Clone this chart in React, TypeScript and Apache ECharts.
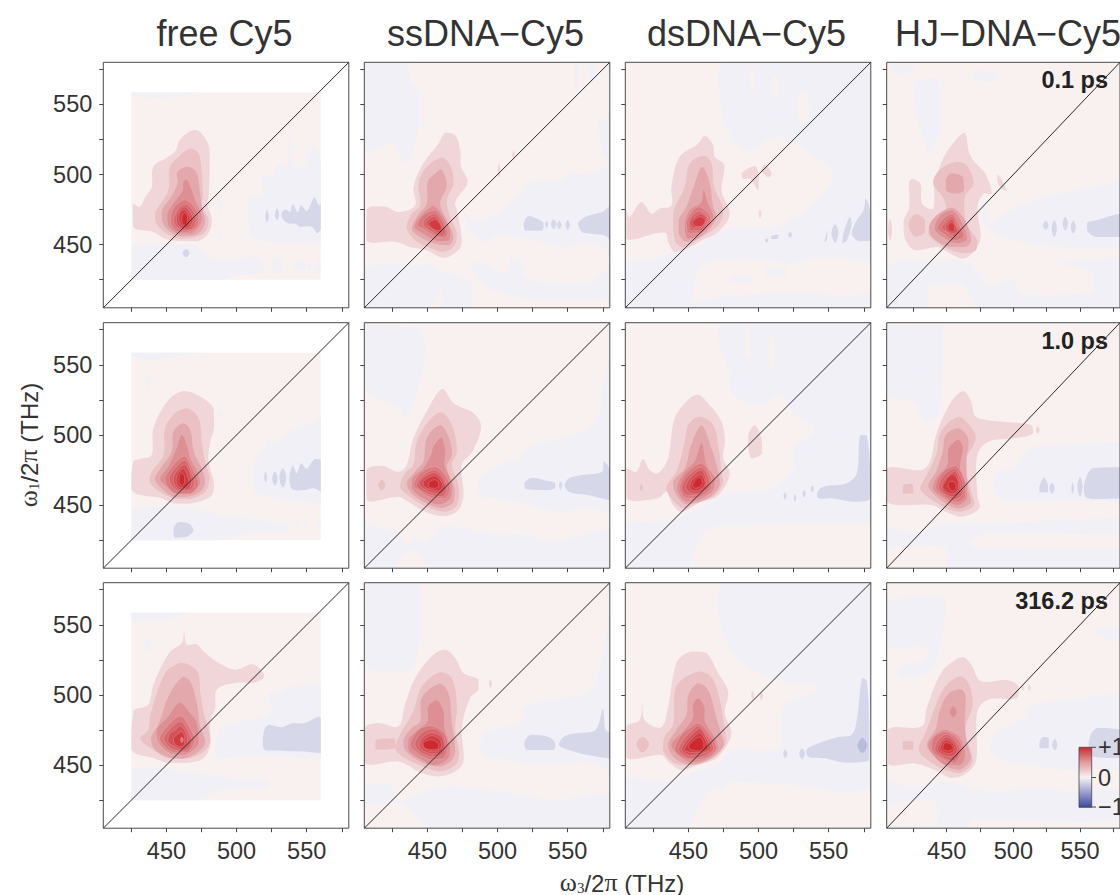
import React, { useEffect, useRef } from "react";
import * as echarts from "echarts";

type Contour = [number, number[]];

const columnTitles = ["free Cy5", "ssDNA\u2212Cy5", "dsDNA\u2212Cy5", "HJ\u2212DNA\u2212Cy5"];
const delayLabels = ["0.1 ps", "1.0 ps", "316.2 ps"];
const minorTicks = [425, 450, 475, 500, 525, 550, 575];
const majorLabels = [450, 500, 550];
const axisRange = [405, 580];
const diagonal = [[405, 405], [580, 580]];
const colorbarLabels = ["+1", "0", "\u22121"];

const levelColors: Record<string, string> = {
  "-3": "#babcdc", "-2": "#d7d7ea", "-1": "#f1f0f7", "0": "#f8f1ef",
  "1": "#f0d6d8", "2": "#eac1c4", "3": "#e3a8ac", "4": "#dd8f93", "5": "#da7a7f",
  "6": "#d6666b", "7": "#d45157", "8": "#d03c42", "9": "#cd2a30",
};

const fullBase: Contour = [0, [405, 405, 580, 405, 580, 580, 405, 580]];
const cutBase: Contour = [0, [425, 425, 560, 425, 560, 558.5, 425, 558.5]];

const freeCy5_01: Contour[] = [
  cutBase,
  [-1, [425, 558.5, 473, 558.5, 459, 556, 439, 554.5, 425, 557]],
  [-1, [508.5, 484, 518, 486.5, 519, 500.5, 525, 498, 530, 508, 536, 505.5, 537.5, 529, 541, 507, 548, 505.5, 555, 520, 560, 508, 560, 451, 536, 451.5, 522, 452, 513, 455.5, 508.5, 465]],
  [-1, [425, 449, 450, 449.5, 467, 450.7, 476.4, 444.8, 483.6, 440, 500.2, 440, 514.5, 441.2, 519.3, 436.4, 518, 430.5, 509.8, 428.8, 498, 428, 490.7, 425, 425, 425]],
  [-1, [528.8, 442, 533, 435, 528.8, 428.5, 524.5, 435]],
  [-1, [545.5, 439, 550, 435, 545.5, 431, 541, 435]],
  [-1, [552, 438, 553.5, 434, 552, 430, 550.5, 434]],
  [-1, [558.5, 439, 560, 434, 558.5, 429, 557, 434]],
  [-1, [488.3, 483, 489.5, 478, 488.3, 473, 487, 478]],
  [-1, [488.8, 461, 490, 458, 488.8, 455, 487.7, 458]],
  [-2, [531.9, 472, 534.8, 475, 538.3, 473.3, 540, 478.8, 543.6, 473.3, 546, 478, 550.2, 474, 555.5, 484, 558.6, 478, 560, 479.3, 560, 461.4, 557.4, 458.3, 553.8, 462.6, 548, 463, 545.5, 462.6, 542, 465, 538, 465, 533.6, 467.4]],
  [-2, [521.7, 474.5, 523, 470, 521.7, 466, 520.5, 470]],
  [-2, [528.8, 475.7, 530.3, 471.5, 528.8, 467.4, 527.3, 471.5]],
  [-2, [464, 447, 466.5, 444, 464, 441, 461.5, 444]],
  [1, [470.5, 531.7, 475, 529.3, 479, 523.3, 480.7, 517.4, 480.7, 500.7, 480, 484, 479, 479.3, 482.4, 467.4, 479, 456.7, 471.7, 452.6, 460, 452.6, 449, 454.3, 440.7, 459, 426.4, 462.6, 426, 479, 431, 477, 435, 484, 439.5, 491, 440.7, 505.5, 451.4, 512.6, 457, 517.4, 458.6, 523.3, 464.5, 529.3]],
  [2, [466.9, 518.6, 472.9, 515, 475.2, 500.7, 476, 484, 475.2, 478, 480, 467.4, 477.6, 459, 470.5, 455.5, 459.8, 454.3, 450.2, 457.9, 443.1, 465, 441.9, 472, 444.3, 476.9, 451.4, 488.8, 452.6, 505.5, 458.6, 512.6]],
  [3, [465.7, 505.5, 471.7, 500.7, 474, 486.4, 475.2, 476.9, 477.6, 467.4, 475.2, 460.2, 469.3, 456.7, 459.8, 456, 451.4, 460.2, 446.7, 467.4, 446.7, 474.5, 452.6, 482.9, 457.9, 493.6, 457.9, 501.9]],
  [4, [464.5, 496.4, 468, 488.8, 470.5, 481.7, 475.2, 469.8, 473, 462.6, 466.9, 457.9, 458.6, 457.9, 451.4, 463.8, 450.7, 472, 455, 479.3, 461.7, 488.8, 462.1, 494.8]],
  [5, [463, 482, 469, 478, 473, 470, 472, 463, 465, 459, 457, 460, 453, 466, 454, 474, 458, 479]],
  [6, [464, 479, 469, 474, 471, 468, 469, 462, 464, 460, 458, 462, 455, 467, 457, 473, 460, 477]],
  [7, [463, 477, 467, 473, 469, 468, 467, 463, 464, 461, 459, 463, 457, 468, 458, 472]],
  [8, [463, 475, 466, 471, 467, 467, 465, 463, 463, 462, 460, 465, 459, 469, 460, 473]],
  [9, [463, 473, 465, 470, 465, 467, 464, 464, 462, 464, 461, 467, 461, 470]],
];

const ssDNA_01: Contour[] = [
  fullBase,
  [-1, [405, 580, 434, 580, 438, 565, 444, 558, 444, 541, 442, 527, 438, 513, 433, 508, 426, 522, 419, 520, 410, 517, 405, 522]],
  [-1, [475.7, 474.5, 480.5, 469, 493.6, 468.6, 517.4, 487.6, 522, 493.6, 546, 497, 550.7, 500.7, 565, 500.7, 580, 507, 580, 446, 562.6, 452, 550.7, 448, 527, 453, 512.6, 455.5, 500.7, 456.7, 491, 452, 481.7, 459, 477, 468.6]],
  [-1, [555, 580, 558, 580, 558, 558, 555, 560]],
  [-1, [565, 580, 570, 580, 568, 563, 566, 565]],
  [-1, [572, 537, 575, 517, 580, 510, 580, 540]],
  [-1, [405, 432, 427, 436.4, 446, 435, 449.5, 437.6, 458, 431.7, 467.4, 429.3, 481.7, 422, 481.7, 412.6, 479.3, 405, 460.7, 405, 460, 418.6, 450.7, 405.5, 405, 405]],
  [-1, [480.5, 436.4, 493.6, 435, 505.5, 429.3, 510.2, 441, 517.4, 436.4, 519.8, 427, 534, 423.3, 565, 423.3, 580, 431.7, 580, 413, 541.2, 410, 505.5, 415, 488.8, 422]],
  [-2, [518.6, 465, 522, 470.5, 528, 468.6, 532.9, 465, 531.7, 460, 524.5, 460, 519.8, 460]],
  [-2, [535, 467, 536.2, 464.5, 535, 462, 533.8, 464.5]],
  [-2, [540, 468, 542, 464.5, 540, 461, 538, 464.5]],
  [-2, [544, 467, 545.5, 464, 544, 461, 542.5, 464]],
  [-2, [550, 467.5, 551.5, 464, 550, 460.5, 548.5, 464]],
  [-2, [557.4, 465, 562.6, 469.8, 569.8, 472, 575.8, 474, 579.3, 477, 580, 454, 575.8, 456.7, 565, 457.9, 560.2, 459]],
  [1, [462.6, 529.8, 469.8, 528, 473.3, 517.4, 474, 505.5, 478.8, 494.8, 469.8, 480.5, 471, 474.5, 474.5, 453, 472, 446, 461.4, 440.7, 449.5, 446, 437.6, 448.3, 426.9, 452, 406.7, 453, 406.7, 475, 419.8, 477, 429.3, 473.3, 441.2, 478, 440, 491, 447, 507.9, 457.9, 522]],
  [1, [501, 508, 502, 503, 501, 498, 500, 503]],
  [1, [511.4, 517, 512.4, 514, 511.4, 511, 510.4, 514]],
  [2, [460.2, 512, 466.2, 506.7, 468.6, 493.6, 463.8, 481.7, 466.2, 469.8, 471, 457.9, 469.3, 449.5, 461.4, 444.8, 450.7, 448.3, 440, 454.3, 435.2, 462.6, 438.8, 472, 444.8, 478, 443.6, 493.6, 449.5, 505.5]],
  [3, [459.8, 503.8, 463.8, 492.4, 459, 479.3, 463.8, 467.4, 468.6, 455.5, 465, 449.5, 455.5, 450.7, 444.8, 455.5, 438.8, 461.4, 442.4, 469.8, 449.5, 479.3, 450.2, 494.8, 455.5, 500.7]],
  [4, [454.3, 477.6, 461.4, 469.8, 466.2, 459, 465, 453, 456.7, 452.6, 447, 457.9, 440.7, 462.6, 443.6, 468.6, 449.5, 474.5]],
  [5, [455, 474.5, 460.7, 468.6, 464.5, 459, 462.6, 455, 455.5, 456, 447, 461.4, 443, 464, 447, 471]],
  [6, [455, 472, 460, 467, 463, 459, 460, 456, 455, 458, 449, 462, 447, 465, 449, 469]],
  [7, [455, 470, 459, 466, 461, 460, 459, 458, 455, 460, 451, 463, 449, 465, 451, 468]],
  [8, [456, 468, 459, 465, 460, 461, 457, 460, 453, 462, 451, 465, 453, 467]],
];

const dsDNA_01: Contour[] = [
  fullBase,
  [-1, [476, 580, 580, 580, 580, 405, 405, 405, 405, 435, 423.6, 440, 430.7, 441, 439, 445, 456.9, 448.3, 468.8, 459, 490.2, 462.6, 518.8, 465, 552, 493.6, 552, 503, 533, 517.4, 514, 527, 490, 517.4, 476, 536, 473.6, 546]],
  [0, [459, 435, 495, 440, 523.6, 436.4, 541.6, 441, 580, 436.4, 580, 416, 519, 416, 454.5, 410, 452.4, 405]],
  [0, [494, 574, 497, 574, 497, 562, 494, 562]],
  [0, [510, 570, 514, 570, 514, 556, 510, 556]],
  [0, [528, 555, 534, 560, 536, 540, 530, 535]],
  [-1, [480, 428, 495, 428, 495, 423, 480, 423]],
  [-1, [505, 434, 520, 433, 520, 428, 505, 428]],
  [-2, [505.7, 454.5, 507, 453, 505.7, 451.5, 504.5, 453]],
  [-2, [509, 456, 514, 457, 514, 454, 509, 454]],
  [-2, [522.4, 459, 524, 457, 522.4, 455, 521, 457]],
  [-2, [547, 452, 549, 460, 549, 456, 548, 452]],
  [-2, [554.5, 464.5, 557, 458, 554.5, 451.5, 552, 458]],
  [-2, [565, 469.8, 566.4, 465, 562.9, 453, 559.8, 451, 560.5, 458]],
  [-2, [576.4, 482.9, 580, 472, 580, 453, 571, 452.6, 566.4, 458, 570, 467.4, 574.8, 474.5]],
  [1, [461.7, 527.4, 467.6, 521, 468.8, 512.6, 475.5, 506.7, 473.6, 488.8, 479.5, 472, 471.2, 459, 459.3, 453, 448.6, 447, 440.2, 444.8, 435.5, 452, 434.3, 457.9, 428.3, 458.3, 405.7, 454.3, 405.7, 474.5, 408, 469.8, 416.4, 480.5, 423.6, 472, 429.5, 475.7, 437.9, 478, 437.9, 491.2, 443.8, 512.6, 456.9, 522]],
  [1, [487.9, 501, 497.4, 506, 500.2, 498, 499.8, 488.8, 493.8, 497, 489, 497]],
  [1, [502, 503, 504.5, 507, 509.3, 500.7, 507, 498]],
  [1, [501, 475, 502, 472, 501, 469, 500, 472]],
  [2, [461.2, 513.3, 466.4, 507.9, 468.3, 491.2, 474.8, 474.5, 471.2, 463.8, 459.3, 455.5, 446.2, 448.3, 440.2, 453, 439, 472, 447.4, 491.2, 451, 507.9]],
  [3, [459.8, 505.5, 465.2, 493.6, 467.6, 477, 470, 469.8, 460.5, 456.7, 448.6, 452, 443, 457.9, 443, 467.4, 448.6, 477, 454.5, 493.6]],
  [4, [460.7, 488.8, 464, 479.3, 467.6, 469.8, 460.5, 459, 449.8, 454.3, 447.4, 463.8, 451, 474.5, 459.3, 480.5]],
  [5, [458, 477, 466, 468.6, 459.3, 458.3, 450, 458.3, 448.6, 466, 453.3, 474.5]],
  [6, [458, 474, 464, 468, 459, 460, 452, 460, 450, 466, 454, 472]],
  [7, [459, 472, 463, 468, 459, 462, 453, 462, 451, 466, 455, 470]],
  [8, [459, 470, 462, 467, 459, 463, 455, 463, 453, 466, 456, 469]],
];

const hjDNA_01: Contour[] = [
  fullBase,
  [-1, [426, 565, 442, 568.6, 445.7, 537.6, 443.3, 527, 437.4, 515, 431.4, 529.3, 426.7, 546]],
  [-1, [408, 578, 427, 578, 420, 572, 410, 573]],
  [-1, [470, 574, 488, 572, 486, 566, 471, 568]],
  [-1, [405, 434, 424.3, 438.8, 441, 436.4, 448, 438.8, 468.3, 436.4, 479, 422, 495, 424.5, 519.5, 434, 572, 441, 580, 441, 580, 405, 405, 405]],
  [0, [436, 405, 436, 420, 460, 422, 472, 405]],
  [0, [500, 428, 530, 436, 560, 430, 560, 416, 510, 414]],
  [-1, [483.8, 465, 502.9, 477, 524.3, 484, 548, 488.8, 572, 493.6, 580, 495, 580, 448, 543, 448, 519.5, 449.5, 503, 453, 491, 455.5, 481.4, 462.6]],
  [-1, [476.7, 486, 481, 470, 483, 462, 478, 465]],
  [-2, [524.3, 467, 526.3, 463.8, 524.3, 460.5, 522.3, 463.8]],
  [-2, [530.7, 467.5, 532.7, 461.4, 530.7, 455.5, 528.7, 461.4]],
  [-2, [539, 470, 541, 465, 539, 460, 537, 465]],
  [-2, [545, 467, 547, 462.6, 545, 458, 543, 462.6]],
  [-2, [555.2, 465.5, 562.4, 467.4, 580, 472, 580, 455.5, 562.4, 455.5, 555.2, 460]],
  [1, [463.6, 530, 467, 515, 471.9, 507.9, 479, 500.7, 483.8, 486.4, 477.9, 486.4, 473, 477, 475.5, 455.5, 471.9, 447, 462.4, 440, 450.5, 444.8, 443.3, 448.3, 425.5, 446.4, 418.3, 455.5, 417.6, 466.2, 421.9, 477, 422.4, 496, 430.2, 493.6, 431.4, 479.3, 439.8, 475.7, 441, 493.6, 448, 512.6, 457.6, 525.7]],
  [1, [488, 500, 492, 495, 495, 488, 491, 490, 488, 495]],
  [1, [407.5, 468.5, 409, 461, 407.5, 453, 406, 461]],
  [2, [456.4, 509, 464.8, 506.7, 470.2, 493.6, 463.6, 484, 464.8, 465, 473, 453, 471.9, 446, 462.4, 444, 448, 448.3, 436.2, 457.9, 439.8, 467.4, 449.3, 474.5, 447, 484, 439.8, 493.6, 444.5, 503]],
  [2, [421.4, 463.8, 426.7, 471.7, 433.8, 467.4, 433.8, 459, 426.7, 455.5]],
  [3, [453.2, 501, 462.4, 498, 462.9, 488.8, 456.4, 486.4, 449.3, 488.8, 449.3, 496]],
  [3, [454, 476.4, 463.6, 467.4, 468.3, 453, 463.6, 448.3, 451.7, 448.3, 439, 455.5, 436.6, 462.6, 442.5, 471]],
  [4, [454, 474.5, 462.4, 463.8, 465.2, 454.3, 457.6, 451.2, 449.3, 454.3, 441, 461.4, 444.3, 469.8]],
  [5, [454, 472, 460, 463, 463, 456, 456, 453, 449, 457, 443, 462, 447, 468]],
  [6, [454, 470, 458, 463, 460, 458, 455, 456, 450, 459, 446, 462, 449, 466]],
  [7, [454, 468, 457, 463, 458, 459, 454, 458, 450, 460, 449, 463, 451, 466]],
  [8, [454, 466, 456, 463, 456, 460, 454, 459, 451, 461, 451, 464]],
];

const freeCy5_10: Contour[] = [
  cutBase,
  [-1, [425, 558.5, 476, 558.5, 457, 556, 441, 553.6, 425, 556]],
  [-1, [436.4, 545, 438, 539, 436.4, 533, 435, 539]],
  [-1, [512, 478.6, 520.5, 491.7, 522.9, 497.6, 526.4, 494, 538.3, 502.4, 547.9, 507, 555, 509.5, 560, 513, 560, 451, 547.9, 452.4, 530, 454.8, 518.3, 457, 512.3, 460.7]],
  [-1, [425, 445.2, 437.9, 448.8, 466.9, 447.6, 495.5, 441.7, 526.4, 438, 538.3, 435.7, 538.3, 432, 519.3, 431, 490.7, 426, 486, 425, 425, 425]],
  [-1, [543, 437.5, 544, 434.5, 543, 431.5, 542, 434.5]],
  [-1, [549, 437, 550, 434, 549, 431, 548, 434]],
  [-1, [558.6, 437.5, 560, 434.5, 558.6, 431.5, 557.6, 434.5]],
  [-1, [488.3, 518, 489.8, 514.8, 488.3, 512, 486.8, 514.8]],
  [-2, [520.7, 474, 521.8, 470, 520.7, 466, 519.7, 470]],
  [-2, [527.3, 474, 529.3, 469, 527.3, 464, 525.3, 469]],
  [-2, [533, 476.5, 535.5, 469.5, 533, 462.5, 530.5, 469.5]],
  [-2, [537.6, 469, 540, 478, 543, 472.6, 546, 479.8, 550, 476, 555.5, 482.9, 560, 482, 560, 459.5, 555, 462, 547.9, 460.7, 539.7, 461.4]],
  [-2, [455, 433, 458.6, 438, 465.7, 437, 469.3, 432, 464.5, 427.4, 456.2, 426.7]],
  [1, [462, 531.4, 471.7, 528.6, 483.6, 519, 484, 504.8, 481.2, 495.2, 480, 481, 484, 464.3, 481.2, 456, 466.9, 451.2, 455, 451.2, 445.5, 455.2, 431.2, 457.1, 425, 461.9, 426.4, 481, 431.2, 482.9, 439.5, 485.7, 440.7, 504.8, 451.6, 525]],
  [2, [464.5, 519, 472.9, 511.9, 475.2, 495.2, 477.6, 481, 480.7, 469, 477.6, 459.5, 466.9, 454.3, 456.2, 454.3, 445.5, 459.5, 437.9, 466.7, 439.5, 473.8, 447.9, 485.7, 449, 504.8, 456.2, 515.5]],
  [3, [462, 508.3, 467, 503.6, 469.5, 488, 475.2, 476, 477.6, 466.7, 474, 459.5, 464.5, 456, 455, 456, 446.7, 461.9, 441.9, 469, 446.7, 477.4, 453.8, 488, 455, 502.4]],
  [4, [461, 500, 464.5, 492.9, 466.9, 483.3, 471.9, 473.8, 474, 465.5, 466.9, 458.3, 456.2, 458.3, 449, 464.3, 445.5, 469, 451.4, 477.4, 457.4, 490.5]],
  [5, [463, 485, 470, 473, 473, 465, 467, 458, 457, 458, 451, 463, 449, 469, 453, 476, 458, 482]],
  [6, [463, 482, 468, 473, 470, 465, 466, 460, 458, 460, 453, 465, 452, 470, 456, 476]],
  [7, [463, 479, 467, 472, 468, 466, 465, 461, 459, 461, 455, 466, 455, 470, 458, 475]],
  [8, [462, 476, 465, 471, 466, 466, 463, 462, 459, 463, 457, 467, 458, 472]],
  [9, [461, 473, 463, 470, 463, 466, 461, 464, 459, 466, 459, 470]],
];

const ssDNA_10: Contour[] = [
  fullBase,
  [-1, [405, 562, 406.7, 578.6, 443.6, 576, 448.3, 564.3, 448.3, 554.8, 442.4, 531, 434, 512, 429.3, 519, 415, 526.2, 406.7, 531]],
  [-1, [486.4, 462, 488.8, 471.4, 517.4, 485.7, 522, 491.7, 546, 497.6, 569.8, 509.5, 575.7, 538, 580, 550, 580, 445, 562.6, 447.6, 543.6, 445, 522, 450, 500.7, 454.8, 488.8, 456]],
  [-1, [405, 436, 426, 431, 436, 422, 442, 426, 450, 424, 458, 434, 480, 433, 497, 429, 517, 429, 540, 424, 580, 432, 580, 405, 462, 405, 450, 408, 438, 418, 428, 410, 428, 405, 405, 405]],
  [-2, [519, 465.5, 524.5, 469.5, 532.9, 467.9, 541.2, 465.5, 541, 462, 534, 460.7, 520, 461.4]],
  [-2, [544.8, 467, 546, 464.3, 544.8, 461, 543.8, 464.3]],
  [-2, [547.9, 464.3, 550.7, 469, 560, 471.4, 574.5, 473.8, 575.7, 481, 580, 475, 580, 453.6, 565, 457, 550.7, 459.5]],
  [1, [460.7, 532.9, 468.6, 522.6, 482.9, 515.5, 488.3, 506, 482, 488, 474.5, 478.6, 475.7, 457, 472, 446.4, 462.6, 442, 448.3, 445.2, 436.4, 452.4, 429.3, 456, 406.7, 453.6, 406.7, 475, 417.4, 478, 429.3, 473.8, 435.2, 478.6, 440, 497.6, 449.5, 516.7]],
  [2, [459.8, 516.2, 467.4, 507, 471, 488, 467.4, 478.6, 472.6, 462, 471, 450, 462.6, 445.2, 449.5, 448.8, 437.6, 456, 430.5, 463, 434, 472.6, 440, 478.6, 442.4, 495, 450.7, 509.5]],
  [2, [417.4, 468, 420, 464.3, 417.4, 460.5, 415, 464.3]],
  [3, [459, 507, 465, 498.8, 467.4, 485.7, 463.8, 477.4, 469.3, 462, 468.6, 452.4, 460.2, 448, 449.5, 451.2, 438.8, 458.3, 435.2, 465.5, 441.2, 473.8, 447.1, 481, 449.5, 497.6]],
  [4, [459.8, 498, 462.6, 488, 462.1, 478.6, 467.4, 464.3, 466.2, 454.8, 457.9, 450.5, 447.1, 454.8, 438.8, 462, 439.3, 469, 447.1, 476.2, 452.6, 485.7, 454.3, 491.9]],
  [5, [455.5, 477.4, 462.6, 471.4, 466.2, 462, 462.6, 454.8, 453, 455.2, 443.6, 460.7, 440, 464.3, 446, 473.8]],
  [6, [455, 475, 461, 470, 464, 462, 461, 456, 453, 457, 445, 461, 442, 464, 447, 471]],
  [7, [455, 473, 460, 469, 463, 462, 459, 458, 453, 459, 447, 462, 444, 465, 448, 470]],
  [8, [455, 471, 459, 468, 461, 463, 458, 460, 453, 461, 448, 463, 447, 466, 450, 469]],
  [9, [455, 468, 458, 466, 458, 463, 455, 462, 451, 463, 451, 466]],
];

const dsDNA_10: Contour[] = [
  fullBase,
  [-1, [474, 579, 580, 580, 580, 405, 405, 405, 405, 436, 423.6, 438, 442.6, 440.5, 451, 445, 471.2, 456, 480.7, 459.5, 504.5, 460.7, 523.6, 473.8, 526, 490.5, 540, 504.8, 526, 514, 515, 528.6, 503, 521.4, 481.7, 528.6, 479, 545, 472, 566.6]],
  [0, [451, 405, 455.7, 421.4, 465, 433.3, 495.7, 435.7, 538.8, 437, 580, 435.7, 580, 405]],
  [0, [490, 575, 494, 575, 494, 556, 490, 556]],
  [0, [508, 570, 512, 570, 511, 548, 507, 548]],
  [-2, [541.7, 458.3, 546, 463, 562.7, 465.5, 570, 472.6, 572.4, 500, 577, 500, 580, 466.7, 579, 453.6, 566.4, 452.4, 552, 454.8, 542.6, 454.8]],
  [-2, [518.8, 459, 520, 456.7, 518.8, 454, 517.8, 456.7]],
  [-2, [526, 457.5, 527, 455, 526, 452.5, 525, 455]],
  [-2, [532.4, 461, 533.6, 458.3, 532.4, 455.5, 531.4, 458.3]],
  [-2, [538.3, 464, 539.4, 461.4, 538.3, 459, 537.3, 461.4]],
  [1, [456.9, 528.6, 462.9, 523.8, 473.6, 509.5, 476, 495.2, 474.8, 483.3, 479.5, 472.6, 471.2, 457, 456.9, 451.2, 445, 445.2, 439, 450, 434.3, 459.5, 428.3, 454.8, 405.7, 454.8, 405.7, 475.7, 412.9, 473.8, 417.6, 482.9, 422.4, 475, 428.3, 472.6, 435.5, 483.3, 440.2, 512, 451, 526.2]],
  [1, [492.6, 500, 497.4, 507, 502, 497.6, 502.5, 487, 495, 483.3, 492.6, 492.9]],
  [2, [458, 513, 467.6, 507, 471.2, 492.9, 473.6, 473.8, 474.8, 466.7, 468.8, 457, 456.9, 452.4, 446.2, 448, 436.7, 456, 434.3, 463, 441.4, 473.8, 447.4, 495.2, 449.8, 507]],
  [2, [416.4, 465, 417.6, 462.6, 416.4, 460, 415.3, 462.6]],
  [3, [459.3, 506.7, 466.4, 490.5, 471.2, 473.8, 472.4, 464.3, 464, 454.8, 448.6, 450.5, 440.2, 459.5, 439, 466.7, 447.4, 476.2, 452, 492.9]],
  [4, [459.3, 494, 462.9, 478.6, 468.8, 469, 467.6, 460.7, 459.3, 454.8, 448.6, 452.4, 442, 462, 447.4, 473.8, 454.5, 481]],
  [5, [459.3, 479.8, 466.4, 469, 466.4, 462, 456.9, 455.2, 448.6, 454.8, 443.8, 462, 448.6, 472.6]],
  [6, [459, 477, 465, 468, 464, 462, 456, 457, 449, 457, 445, 462, 450, 471]],
  [7, [459, 475, 463, 467, 462, 462, 456, 458, 451, 459, 448, 463, 452, 470]],
  [8, [459, 472, 462, 466, 460, 462, 455, 460, 451, 462, 452, 467, 455, 470]],
  [9, [458, 470, 460, 466, 458, 463, 455, 462, 453, 464, 455, 468]],
];

const hjDNA_10: Contour[] = [
  fullBase,
  [-1, [405, 578, 447, 578.6, 447, 550, 443.3, 512, 433.8, 509.5, 424.3, 523.8, 405.6, 528.6]],
  [-1, [485, 460.7, 487, 472, 502.9, 478.6, 512.4, 490.5, 543.3, 492.9, 572, 495, 580, 495, 580, 452, 543.3, 453.6, 514.8, 452.4, 491, 454.8]],
  [-1, [405, 432, 430, 431, 447, 437, 477, 437, 508, 438, 580, 441, 580, 405, 450, 405, 450, 416, 405, 418]],
  [0, [405, 405, 405, 418, 425, 421, 450, 420, 450, 405]],
  [0, [467, 424, 481.4, 429.8, 580, 428.6, 580, 419, 472, 420]],
  [-2, [519.5, 463, 523, 469.5, 526, 464, 526, 459, 520, 459]],
  [-2, [529, 466, 531, 462, 529, 458, 527, 462]],
  [-2, [544.5, 466, 545.5, 462, 544.5, 458, 543.5, 462]],
  [-2, [550, 470, 552, 463, 550, 456, 548, 463]],
  [-2, [552.9, 463, 557.6, 475, 567, 476.7, 580, 477, 580, 454.8, 562.4, 454.3, 554, 456]],
  [1, [462.9, 531.4, 468.3, 523.8, 471.9, 513, 491, 509.5, 513.6, 507, 514.8, 501, 500.5, 497.6, 481.4, 495.2, 473, 485.7, 473, 457, 474.3, 447.6, 461.2, 441.7, 449.3, 445.2, 438.6, 450, 405, 452.4, 405, 475.7, 431.4, 475, 437.4, 481, 442, 500, 450.5, 519, 457.6, 528.6]],
  [1, [518.3, 506, 519.8, 503.6, 518.3, 501, 516.8, 503.6]],
  [2, [458.8, 513, 467, 507, 471.9, 497.6, 464, 481, 468.3, 459.5, 470.7, 450, 460, 445.2, 449.3, 448, 437.4, 454.8, 430.2, 461.9, 435, 471.4, 442, 485.7, 445.7, 502.4]],
  [2, [417, 464, 424, 465, 425, 459, 417, 458]],
  [3, [458.8, 504.8, 466, 497.6, 464.8, 481, 466, 461.9, 468.3, 452.4, 458.8, 447.6, 449.3, 451.2, 438.6, 459.5, 436.2, 464.3, 442, 473.8, 447, 488, 449.3, 500]],
  [4, [458.8, 496.4, 462, 490.5, 460, 476.2, 464.8, 464.3, 465.2, 454.8, 457.6, 450, 448, 454.8, 439.8, 461.9, 442, 469, 450.5, 478.6, 451.7, 490.5]],
  [5, [457, 478, 464, 466, 464, 456, 457, 452, 448, 456, 442, 462, 443, 468, 449, 475]],
  [6, [456, 476, 462, 466, 462, 458, 456, 454, 449, 457, 444, 462, 445, 467, 450, 473]],
  [7, [456, 474, 460, 466, 460, 459, 455, 456, 449, 458, 446, 462, 447, 466, 451, 471]],
  [8, [455, 472, 459, 466, 458, 460, 454, 458, 449, 460, 447, 463, 449, 467, 451, 470]],
  [9, [454, 467, 457, 465, 457, 462, 454, 460, 452, 462, 451, 465]],
];

const freeCy5_316: Contour[] = [
  cutBase,
  [-1, [425, 558.5, 466, 558.5, 440.7, 552.6, 425, 554]],
  [-1, [437, 541, 440, 536, 437, 531, 434.5, 536]],
  [-1, [484.8, 456, 488.3, 476.4, 497.9, 480, 524, 487, 522.9, 501.2, 528.8, 501, 538, 505.8, 552.6, 507, 560, 508.4, 560, 454.8, 548, 454.8, 514.5, 457, 489.7, 454.8]],
  [-1, [425, 448, 447.9, 448, 477.9, 443, 501.5, 440.5, 523, 438, 523, 434.6, 501.5, 433.4, 485, 431, 473, 425, 425, 425]],
  [-2, [518.6, 468, 521.7, 478, 532.4, 477, 539.5, 479.8, 548, 479.8, 558.6, 484.6, 560, 483.4, 560, 458.4, 548, 459.6, 521.7, 460.3, 519.3, 461.6]],
  [1, [462.6, 544.3, 464.5, 536, 471.7, 536, 477.6, 530, 487, 522.9, 499, 518, 512, 521.7, 519.8, 513.3, 512, 508.6, 500.2, 508.6, 486, 503.8, 484.8, 490.7, 481.2, 481.2, 481.2, 464.5, 476.4, 455, 464.5, 451.4, 451.4, 451.4, 440.7, 455, 425, 461, 426.4, 488.3, 437, 493, 440.7, 507.4, 452, 530, 461, 537]],
  [2, [462, 522.9, 472, 516.7, 474.2, 501.2, 476.6, 487, 481.2, 467.9, 476.6, 459.6, 465.7, 454.8, 451.4, 454.8, 440.7, 460.8, 431.2, 469, 437, 475, 438.8, 487, 449, 515.5, 457.6, 522]],
  [3, [461.7, 513, 467, 509.6, 471.7, 494, 474, 477.4, 477.6, 466.7, 472.9, 459.6, 462, 454.5, 452.6, 455.2, 442, 461, 439, 469.3, 444.3, 478.8, 451.4, 498.8]],
  [4, [459.8, 494.6, 466.9, 487, 471.7, 479.8, 472.9, 465.5, 463.3, 457.4, 452.6, 458.6, 444.3, 466.7, 443, 475, 451.4, 484.6, 456.2, 491.7]],
  [5, [460, 485, 466, 478, 470, 468, 465, 459, 455, 459, 448, 464, 445, 469, 450, 477]],
  [6, [460, 481, 465, 475, 468, 466, 463, 460, 455, 461, 450, 465, 448, 469, 452, 475]],
  [7, [460, 478, 464, 473, 465, 466, 461, 461, 456, 463, 451, 467, 452, 472, 456, 475]],
  [8, [461, 474, 463, 470, 463, 465, 460, 463, 456, 465, 455, 469, 458, 472]],
  [5, [461, 470, 462, 468, 461, 466, 460, 468]],
];

const ssDNA_316: Contour[] = [
  fullBase,
  [-1, [407.9, 579, 444.8, 579, 444.8, 550, 441.2, 524, 436.4, 517, 422, 517, 410, 517, 405.5, 529]],
  [-1, [487.6, 461, 491, 472.9, 517.4, 480.2, 519.8, 490.9, 546, 498, 565, 501, 574.5, 526.4, 580, 557, 580, 445.5, 562.6, 452.4, 546, 450.2, 519.8, 451.2, 500.7, 455, 491, 455]],
  [-1, [405, 437, 422, 437, 429.3, 425, 457.9, 434.6, 477, 434.6, 493.6, 432, 517.4, 428.6, 541, 425, 580, 428.6, 580, 405, 453, 405, 431.4, 422.7, 405, 422.7]],
  [-2, [519, 465.5, 523.3, 471.4, 536.4, 470, 541.2, 465.5, 540, 460.8, 521, 460.8]],
  [-2, [543.6, 464.3, 547, 470, 555.5, 472.6, 569.8, 475, 575, 490, 577, 475, 580, 473, 580, 454.8, 565, 457, 550.7, 460.8]],
  [1, [462.6, 532.4, 469.8, 526.4, 475.7, 515.7, 486.4, 511, 486.4, 503.8, 480.5, 497.9, 474.5, 476.4, 475.7, 452.6, 469.8, 445.5, 457.9, 441.9, 446, 444.3, 429.3, 452.6, 405.5, 451.4, 405.5, 476.4, 415, 480, 429.3, 477.6, 434, 493, 441.2, 512, 453.1, 527.6]],
  [1, [494.8, 511, 496, 507.9, 494.8, 505, 493.8, 507.9]],
  [2, [459, 516.2, 467.4, 512, 471, 491.7, 469.8, 474.9, 472.6, 458.2, 469.8, 450, 459, 445.5, 447.1, 449, 434, 454.8, 426.9, 462, 430.5, 471.7, 440, 488.3, 446, 506]],
  [2, [413, 468, 427, 469, 427, 462, 413, 461]],
  [3, [459, 508, 465, 501.2, 467.4, 479.8, 469.8, 460.8, 467.4, 453.6, 459, 449, 447, 451.4, 434, 460.8, 432.9, 467.9, 438.8, 476.4, 444.8, 481, 446, 498]],
  [4, [456.7, 496, 461.4, 488.3, 462, 476.4, 466.2, 462, 465, 455, 455.5, 449.8, 446, 453.8, 436.4, 461, 436.4, 468, 444.8, 476.2, 450.2, 481.2, 450.7, 492]],
  [5, [453, 478, 462.6, 472, 464.5, 462, 461.4, 455, 452, 453.8, 441.2, 459.8, 437.6, 464.5, 443.6, 475]],
  [6, [454, 476, 461, 471, 463, 463, 460, 457, 452, 456, 444, 460, 441, 465, 446, 473]],
  [7, [454, 473, 460, 470, 462, 464, 458, 458, 452, 458, 446, 461, 444, 465, 448, 471]],
  [8, [453, 471, 459, 468, 460, 463, 456, 460, 451, 460, 447, 463, 446, 466, 449, 469]],
  [9, [453, 468, 458, 465, 458, 462, 452, 461, 447, 463, 447, 466]],
];

const dsDNA_316: Contour[] = [
  fullBase,
  [-1, [476, 580, 580, 580, 580, 438, 519.8, 436, 480.7, 438, 473.6, 433.6, 464, 431, 451, 407.4, 450, 405, 405, 405, 405, 439.5, 435.5, 438.3, 449.8, 444, 471.2, 451.2, 480.7, 460.8, 514, 462, 516.4, 486, 518.8, 493, 542.6, 505, 511.7, 510.8, 490, 521.7, 476, 540.7, 471, 567]],
  [-2, [534, 460.8, 542.6, 465.5, 556.9, 470, 566.4, 471.7, 570, 482, 573.8, 512, 577, 510, 578.8, 479, 578.8, 453.6, 561.7, 451.7, 547.4, 454.8, 535.5, 456]],
  [-2, [519, 461, 520.5, 458, 519, 455, 517.5, 458]],
  [-2, [531, 462, 533, 458, 531, 454, 529, 458]],
  [-3, [574, 469.5, 577.5, 463.9, 574, 458.5, 570.5, 463.9]],
  [1, [454.5, 531, 462.9, 529.8, 471.2, 515.5, 478.3, 502.4, 476, 487, 480.7, 472.7, 471.2, 456, 456.9, 450, 445, 446.5, 435.5, 452.4, 430.7, 457.2, 405.7, 455.3, 405.7, 477.4, 415.2, 482, 417.1, 494, 418.8, 482, 430.7, 477, 435.5, 491.7, 441.4, 522.7, 448.6, 529.8]],
  [1, [495.7, 503, 496.7, 499.8, 495.7, 496.5, 494.8, 499.8]],
  [1, [502, 502, 503, 499, 502, 496, 501, 499]],
  [2, [456.9, 516.7, 466.2, 513, 472.4, 496.5, 476, 475, 477, 466.9, 467.6, 454.8, 451, 450, 440.2, 451.2, 431.9, 460.8, 433.1, 470.3, 439, 478.8, 441.4, 506]],
  [2, [413, 465, 417, 470, 422, 465, 417, 459]],
  [3, [457, 508.4, 464, 503.6, 470, 483.6, 473.6, 471.7, 475.5, 464.5, 466.4, 455, 452, 450.2, 440.2, 455, 435.5, 464.3, 441.4, 475, 448.6, 486, 450, 500]],
  [4, [456.9, 497.5, 461.2, 491.7, 461.7, 481.2, 468.8, 469.3, 471.2, 462, 464, 454.8, 452, 452, 442.6, 457.4, 437.9, 464.5, 446.2, 474, 453.3, 483.6, 453.3, 493]],
  [5, [456.9, 480, 465.2, 471.7, 470, 462, 461.7, 454.8, 449.8, 453.8, 440.2, 461, 445, 471.7, 451, 476.4]],
  [6, [457, 478, 464, 470, 468, 462, 460, 456, 450, 455, 443, 461, 447, 469, 452, 474]],
  [7, [458, 476, 463, 469, 466, 462, 459, 458, 451, 457, 445, 461, 449, 468, 453, 472]],
  [8, [458, 473, 462, 468, 464, 462, 458, 459, 452, 459, 447, 461, 450, 466, 454, 470]],
  [9, [458, 470, 461, 466, 461, 462, 457, 460, 452, 461, 450, 463, 453, 467]],
];

const hjDNA_316: Contour[] = [
  fullBase,
  [-1, [405, 567, 445.7, 570, 449.3, 560, 444.5, 535.8, 438.6, 517.9, 414.7, 512, 413.6, 520, 433.8, 525, 435, 533.6, 405, 536]],
  [-1, [560, 545, 570, 548, 580, 546, 580, 538, 570, 540]],
  [-1, [482.6, 462, 488.6, 474, 507.6, 483.6, 514.8, 493, 548, 497, 580, 501, 580, 446.5, 538.6, 446.5, 507.6, 451.2, 491, 453.6]],
  [-1, [405, 439, 424.3, 434.6, 448, 438, 486, 431, 519.5, 434.6, 543.3, 431, 580, 431, 580, 412, 470, 410.8, 463, 405, 405, 405]],
  [0, [405, 420, 441, 425, 443, 407, 405, 407]],
  [-2, [519.5, 465.5, 522, 470, 526.7, 469, 526.7, 462, 519.5, 462]],
  [-2, [531, 468.5, 533, 464.5, 531, 460.5, 529, 464.5]],
  [-2, [556.4, 465.5, 562.4, 476.4, 580, 475, 580, 455, 560, 456]],
  [1, [462.4, 527, 468.3, 521.7, 475.5, 510, 495.7, 510.5, 504, 506, 502.9, 497.9, 481.4, 496.7, 473, 488.3, 471.9, 452.6, 462.8, 443, 452.9, 441, 441, 446.5, 426.7, 451.2, 406, 451.2, 406, 475.2, 431.4, 477.6, 435, 490.7, 445.7, 515.5, 456.4, 525]],
  [1, [507, 507, 508, 505, 507, 503, 506, 505]],
  [1, [512, 507, 513, 505, 512, 503, 511, 505]],
  [2, [460, 513.3, 467, 507.4, 469.5, 493, 464, 475, 469.5, 452.6, 460, 444.3, 448.5, 446.7, 437.4, 452.6, 429, 461, 435, 475, 441, 490.7, 448, 505]],
  [2, [417, 467, 425, 467, 425, 461, 417, 461]],
  [3, [460, 504, 464, 500, 463.6, 481, 464.8, 467, 468.3, 455, 460, 446.7, 449.7, 449, 438.6, 458.4, 435, 464.5, 442, 476.4, 444.5, 488, 450.5, 500]],
  [4, [454.8, 492, 457.6, 488, 454.8, 484, 452.4, 488]],
  [4, [449.7, 475, 460, 469.3, 463.6, 457.4, 460, 450, 449.3, 450, 439.8, 457.4, 436.2, 464.5, 443.3, 473]],
  [5, [449.7, 474, 459, 468, 461.5, 459.8, 455.7, 451.4, 447.5, 454, 438.6, 461, 439.8, 469, 445.7, 473]],
  [6, [450, 472, 457, 467, 460, 460, 455, 453, 448, 455, 441, 461, 443, 467, 446, 470]],
  [7, [450, 470, 456, 466, 458, 461, 454, 456, 448, 457, 443, 461, 445, 466, 447, 468]],
  [8, [450, 468, 455, 465, 456, 461, 452, 458, 448, 459, 445, 462, 447, 466]],
  [9, [449, 466, 453, 465, 455, 462, 451, 460, 447, 462]],
];

const panels: Contour[][] = [
  freeCy5_01, ssDNA_01, dsDNA_01, hjDNA_01,
  freeCy5_10, ssDNA_10, dsDNA_10, hjDNA_10,
  freeCy5_316, ssDNA_316, dsDNA_316, hjDNA_316,
];

const colLeft = [103.3, 364.3, 625.3, 886.7];
const rowTop = [62.3, 322.7, 582.7];
const panelSize = 245.5;
const sans = '"Liberation Sans", Arial, sans-serif';
const serif = '"Liberation Serif", serif';
const ink = "#333333";

function pairs(flat: number[]): number[][] {
  const out: number[][] = [];
  for (let i = 0; i + 1 < flat.length; i += 2) out.push([flat[i], flat[i + 1]]);
  return out;
}

function buildOption() {
  const grid: any[] = [];
  const xAxis: any[] = [];
  const yAxis: any[] = [];
  const series: any[] = [];
  panels.forEach((contours, p) => {
    const col = p % 4;
    const row = Math.floor(p / 4);
    grid.push({
      left: colLeft[col], top: rowTop[row], width: panelSize, height: panelSize,
      show: true, borderColor: "#4a4a4a", borderWidth: 1, backgroundColor: "transparent", containLabel: false,
    });
    const axisBase = {
      gridIndex: p, type: "value", min: axisRange[0], max: axisRange[1],
      splitLine: { show: false }, minorTick: { show: false },
      axisLine: { show: false },
      axisTick: { show: true, customValues: minorTicks, length: 4, inside: false, lineStyle: { color: "#444444", width: 1 } },
    };
    xAxis.push({
      ...axisBase,
      axisLabel: { show: row === 2, customValues: majorLabels, fontFamily: sans, fontSize: 23.5, color: ink, margin: 11 },
    });
    yAxis.push({
      ...axisBase,
      axisLabel: { show: col === 0, customValues: majorLabels, fontFamily: sans, fontSize: 23.5, color: ink, margin: 11 },
    });
    series.push({
      type: "custom", xAxisIndex: p, yAxisIndex: p, silent: true, z: -1, clip: true,
      encode: { x: 0, y: 1 },
      data: contours.map((c, i) => [c[1][0], c[1][1], i]),
      renderItem: (params: any, api: any) => {
        const [level, flat] = contours[params.dataIndex];
        const points = pairs(flat).map((pt) => api.coord(pt));
        const isBase = params.dataIndex === 0;
        return {
          type: "polygon",
          shape: isBase ? { points } : { points, smooth: 0.35, smoothConstraint: [points[0], points[0]] },
          style: {
            fill: levelColors[String(level)],
            stroke: level >= 5 ? "rgba(245,200,200,0.45)" : "none",
            lineWidth: level >= 5 ? 0.6 : 0,
          },
        };
      },
    });
    series.push({
      type: "line", xAxisIndex: p, yAxisIndex: p, silent: true, z: 3,
      data: diagonal, symbol: "none", lineStyle: { color: "#2a2a2a", width: 1 },
    });
  });

  const graphic: any[] = [];
  columnTitles.forEach((text, i) => {
    graphic.push({
      type: "text", x: colLeft[i] + panelSize / 2 - 1.5, y: 33, silent: true,
      style: { text, font: `36px ${sans}`, fill: ink, textAlign: "center", textVerticalAlign: "middle" },
    });
  });
  delayLabels.forEach((text, i) => {
    graphic.push({
      type: "text", x: 1108, y: [80, 341, 601][i], silent: true, z: 10,
      style: { text, font: `bold 23.5px ${sans}`, fill: "#222222", textAlign: "right", textVerticalAlign: "middle" },
    });
  });
  const titleRich = (sub: string) => ({
    text: `{w|\u03c9}{s|${sub}}{n|/2}{w|\u03c0}{n| (THz)}`,
    rich: {
      w: { font: `26px ${serif}`, fill: ink, verticalAlign: "bottom", lineHeight: 30 },
      s: { font: `15px ${serif}`, fill: ink, verticalAlign: "bottom", lineHeight: 30, padding: [9, 0, 0, 0] },
      n: { font: `24px ${sans}`, fill: ink, verticalAlign: "bottom", lineHeight: 30 },
    },
    textAlign: "center", textVerticalAlign: "middle",
  });
  graphic.push({ type: "text", x: 622, y: 880, silent: true, style: titleRich("3") });
  graphic.push({ type: "text", x: 26, y: 445, rotation: Math.PI / 2, silent: true, style: titleRich("1") });

  graphic.push({
    type: "rect", silent: true, z: 10, shape: { x: 1079, y: 747.3, width: 12.7, height: 60 },
    style: {
      fill: new echarts.graphic.LinearGradient(0, 0, 0, 1, [
        { offset: 0, color: "#cc2a30" }, { offset: 0.25, color: "#e29a9e" },
        { offset: 0.5, color: "#f6f2f3" }, { offset: 0.75, color: "#9a9fcf" }, { offset: 1, color: "#3b4a9e" },
      ]),
      stroke: "#444444", lineWidth: 0.8,
    },
  });
  colorbarLabels.forEach((text, i) => {
    const y = [747.3, 777.5, 807][i];
    graphic.push({
      type: "line", silent: true, z: 10, shape: { x1: 1091.7, y1: y, x2: 1096, y2: y },
      style: { stroke: "#444444", lineWidth: 1 },
    });
    graphic.push({
      type: "text", x: 1098, y, silent: true, z: 10,
      style: { text, font: `23.5px ${sans}`, fill: ink, textAlign: "left", textVerticalAlign: "middle" },
    });
  });

  return { animation: false, backgroundColor: "#ffffff", tooltip: { show: false }, grid, xAxis, yAxis, series, graphic };
}

export default function App() {
  const ref = useRef<HTMLDivElement>(null);
  useEffect(() => {
    document.body.style.margin = "0";
    document.body.style.overflow = "hidden";
    const chart = echarts.init(ref.current!, undefined, { renderer: "svg" });
    chart.setOption(buildOption());
    return () => chart.dispose();
  }, []);
  return <div ref={ref} style={{ width: 1120, height: 895, overflow: "hidden" }} />;
}
